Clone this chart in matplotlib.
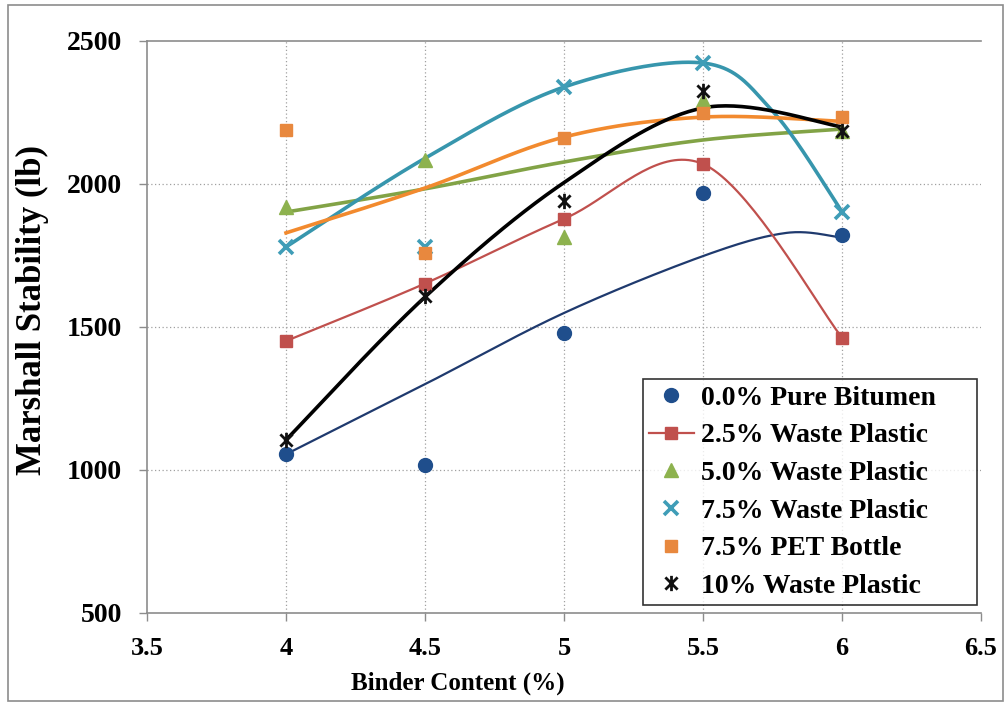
import numpy as np
import matplotlib
matplotlib.use('Agg')
import matplotlib.pyplot as plt
from matplotlib.lines import Line2D
from matplotlib.path import Path
from matplotlib.patches import Rectangle

plt.rcParams['font.family'] = ['Liberation Serif', 'DejaVu Serif']
plt.rcParams['font.weight'] = 'bold'

# binder content (%)
binder = [4, 4.5, 5, 5.5, 6]

# measured points (lb)
pure = [1055, 1017, 1478, 1968, 1820]
wp25 = [1451, 1652, 1878, 2070, 1463]
wp50 = [1918, 2084, 1815, 2292, 2186]
wp75 = [1780, 1780, 2339, 2423, 1903]
pet75 = [2189, 1759, 2162, 2248, 2236]
wp10 = [1105, 1610, 1942, 2325, 2184]

# smoothed lines as drawn in the chart (lb)
pure_line_x = [4, 4.5, 5, 5.5, 5.8, 6]
pure_line = [1055, 1300, 1549, 1748, 1829, 1812]
wp50_line = [1902, 1983, 2077, 2154, 2192]
wp75_line_x = [4, 4.5, 5, 5.5, 5.75, 6]
wp75_line = [1780, 2090, 2339, 2423, 2255, 1903]
pet75_line = [1829, 1986, 2164, 2234, 2219]
wp10_line = [1105, 1605, 2005, 2266, 2200]

labels = ['0.0% Pure Bitumen', '2.5% Waste Plastic', '5.0% Waste Plastic',
          '7.5% Waste Plastic', '7.5% PET Bottle', '10% Waste Plastic']


def smooth(xs, ys, n=40):
    # excel style smoothed line (bezier through the points)
    pts = np.column_stack([xs, ys]).astype(float)
    P = np.vstack([pts[0], pts, pts[-1]])
    out = []
    t = np.linspace(0, 1, n)[:, None]
    for i in range(1, len(P) - 2):
        p0, p1, p2, p3 = P[i - 1], P[i], P[i + 1], P[i + 2]
        c1 = p1 + (p2 - p0) / 6
        c2 = p2 - (p3 - p1) / 6
        seg = (1 - t)**3 * p1 + 3 * (1 - t)**2 * t * c1 + 3 * (1 - t) * t**2 * c2 + t**3 * p2
        out.append(seg)
    out = np.vstack(out)
    return out[:, 0], out[:, 1]


star = Path([(-1, -1), (1, 1), (-1, 1), (1, -1), (0, -1.25), (0, 1.25)],
            [Path.MOVETO, Path.LINETO, Path.MOVETO, Path.LINETO, Path.MOVETO, Path.LINETO])

fig = plt.figure(figsize=(10.05, 7.04), dpi=100)
ax = fig.add_axes([147 / 1005, 1 - 613 / 704, (981 - 147) / 1005, (613 - 41) / 704])

grid_kw = dict(color='#a0a0a0', lw=0.9, ls=(0, (1, 2)), zorder=0)
for gx in [4, 4.5, 5, 5.5, 6]:
    ax.axvline(gx, **grid_kw)
for gy in [1000, 1500, 2000]:
    ax.axhline(gy, **grid_kw)

# 0.0%
x, y = smooth(pure_line_x, pure_line)
ax.plot(x, y, color='#1f3a6e', lw=1.6, zorder=2)
ax.plot(binder, pure, ls='none', marker='o', ms=10, color='#1f4e8c', zorder=3)
# 2.5%
x, y = smooth(binder, wp25)
ax.plot(x, y, color='#c0504d', lw=1.6, zorder=2)
ax.plot(binder, wp25, ls='none', marker='s', ms=8.5, color='#c0504d', zorder=3)
# 5.0%
x, y = smooth(binder, wp50_line)
ax.plot(x, y, color='#82a346', lw=2.6, zorder=2)
ax.plot(binder, wp50, ls='none', marker='^', ms=10, color='#8db24e', zorder=3)
# 7.5%
x, y = smooth(wp75_line_x, wp75_line)
ax.plot(x, y, color='#3796ad', lw=2.6, zorder=2)
ax.plot(binder, wp75, ls='none', marker='x', ms=10, mew=2.6, color='#3f9db7', zorder=3)
# PET
x, y = smooth(binder, pet75_line)
ax.plot(x, y, color='#f28a2e', lw=2.6, zorder=2)
ax.plot(binder, pet75, ls='none', marker='s', ms=8, color='#e8883e', zorder=3)
# 10%
x, y = smooth(binder, wp10_line)
ax.plot(x, y, color='black', lw=2.6, zorder=2)
ax.plot(binder, wp10, ls='none', marker=star, ms=11, mew=2, color='#111111', zorder=3)

ax.set_xlim(3.5, 6.5)
ax.set_ylim(500, 2500)
ax.set_xticks([3.5, 4, 4.5, 5, 5.5, 6, 6.5])
ax.set_xticklabels(['3.5', '4', '4.5', '5', '5.5', '6', '6.5'])
ax.set_yticks([500, 1000, 1500, 2000, 2500])
ax.tick_params(axis='both', direction='out', length=6, width=1, color='#8c8c8c')
ax.tick_params(axis='y', pad=12, labelsize=20)
ax.tick_params(axis='x', pad=11, labelsize=19)
for lab in ax.get_xticklabels() + ax.get_yticklabels():
    lab.set_fontweight('bold')

for s in ['left', 'bottom', 'top']:
    ax.spines[s].set_color('#8c8c8c')
    ax.spines[s].set_linewidth(1.2)
ax.spines['right'].set_visible(False)

fig.text(32 / 1005, 1 - 310 / 704, 'Marshall Stability (lb)', rotation=90,
         ha='center', va='center', fontsize=25, fontweight='bold')
fig.text(458 / 1005, 1 - 683 / 704, 'Binder Content (%)',
         ha='center', va='center', fontsize=18, fontweight='bold')

handles = [
    Line2D([], [], ls='none', marker='o', ms=10, color='#1f4e8c'),
    Line2D([], [], color='#c0504d', lw=1.6, marker='s', ms=8.5),
    Line2D([], [], ls='none', marker='^', ms=10, color='#8db24e'),
    Line2D([], [], ls='none', marker='x', ms=10, mew=2.6, color='#3f9db7'),
    Line2D([], [], ls='none', marker='s', ms=8, color='#e8883e'),
    Line2D([], [], ls='none', marker=star, ms=11, mew=2, color='#111111'),
]
leg = fig.legend(handles, labels, loc='lower left', mode='expand',
                 bbox_to_anchor=(643 / 1005, 1 - 605 / 704, 334 / 1005, 227 / 704),
                 borderaxespad=0, frameon=True, fancybox=False, edgecolor='black',
                 handlelength=1.6, handletextpad=0.25, labelspacing=0.44,
                 borderpad=0.22, prop={'weight': 'bold', 'size': 20})
leg.get_frame().set_linewidth(1.2)

fig.patches.append(Rectangle((0.008, 0.004), 0.99, 0.989, transform=fig.transFigure,
                             fill=False, edgecolor='#8c8c8c', lw=1.2))

fig.savefig('out.png', dpi=100)
